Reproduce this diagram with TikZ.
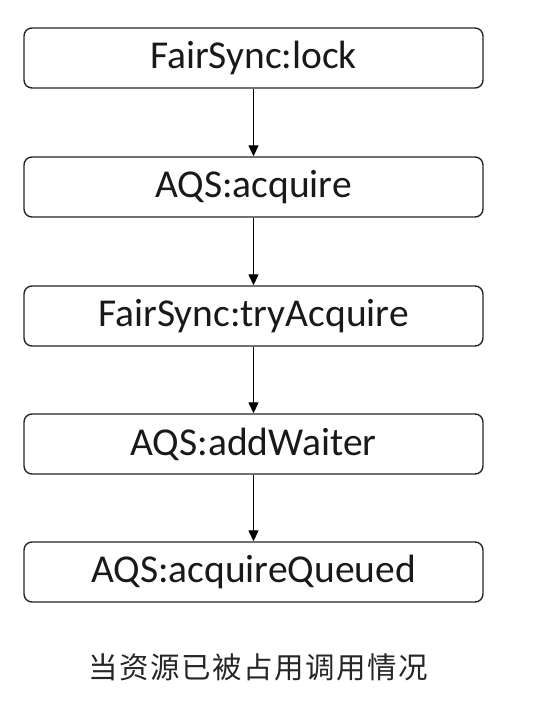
\documentclass[tikz,border=0pt]{standalone}
\usepackage{fontspec}
\setmainfont{Carlito}
\newfontfamily\cjk{Noto Sans CJK SC}
\usetikzlibrary{arrows.meta}
\newcommand{\cs}{\hspace{1.5pt}}
\begin{document}
\begin{tikzpicture}[x=1pt,y=-1pt,
  box/.style={draw=black!85, line width=1.4pt, rounded corners=8pt, minimum width=459pt, minimum height=60pt, inner sep=0pt, font=\fontsize{39.5}{44}\selectfont, text=black!90},
  conn/.style={draw=black, line width=1.3pt, -{Triangle[length=11pt,width=10pt]}}]
\useasboundingbox (0,0) rectangle (554,704);
\node[box] (a) at (253.5,58) {FairSync:lock};
\node[box] (b) at (253.5,187) {AQS:acquire};
\node[box] (c) at (253.5,316) {FairSync:tryAcquire};
\node[box] (d) at (253.5,444) {AQS:addWaiter};
\node[box] (e) at (253.5,572) {AQS:acquireQueued};
\node[font=\cjk\fontsize{29.5}{34}\selectfont, text=black!85] (cap) at (258,667) {当\cs 资\cs 源\cs 已\cs 被\cs 占\cs 用\cs 调\cs 用\cs 情\cs 况};
\draw[conn] (a) -- (b);
\draw[conn] (b) -- (c);
\draw[conn] (c) -- (d);
\draw[conn] (d) -- (e);
\end{tikzpicture}
\end{document}
